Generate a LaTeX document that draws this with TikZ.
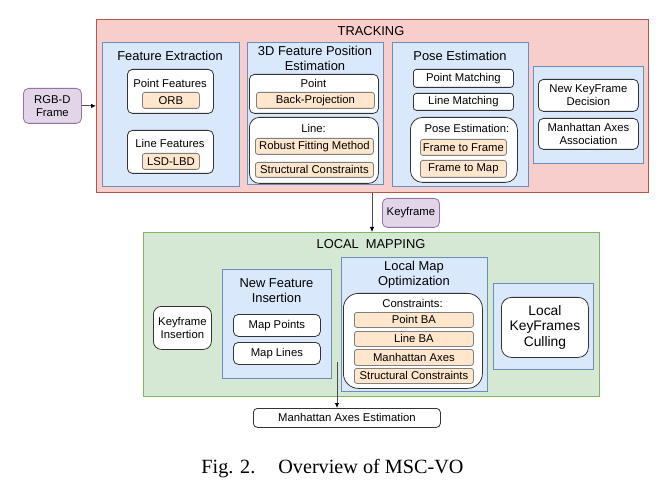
\documentclass[tikz,border=0pt]{standalone}
\usepackage{fontspec}
\setmainfont{Liberation Sans}
\newfontfamily\capfont{Liberation Serif}
\usetikzlibrary{arrows.meta}
\definecolor{pinkF}{HTML}{F8CECC}\definecolor{pinkD}{HTML}{B85450}
\definecolor{blueF}{HTML}{DAE8FC}\definecolor{blueD}{HTML}{6C8EBF}
\definecolor{greenF}{HTML}{D5E8D4}\definecolor{greenD}{HTML}{82B366}
\definecolor{orF}{HTML}{FFE6CC}\definecolor{orD}{HTML}{7F7F7F}
\definecolor{puF}{HTML}{E1D5E7}\definecolor{puD}{HTML}{9673A6}
\newcommand\bx[7]{\node[#1, minimum width={#5pt-#3pt}, minimum height={#6pt-#4pt}] (#2) at (#3,#4) {#7};}
\tikzset{
  base/.style={anchor=north west, inner sep=0pt, align=center, line width=0.8pt,
    font=\fontsize{11.3}{13.5}\selectfont},
  pinkbox/.style={base, fill=pinkF, draw=pinkD},
  bluebox/.style={base, fill=blueF, draw=blueD},
  greenbox/.style={base, fill=greenF, draw=greenD},
  whitebox/.style={base, fill=white, draw=black!80, rounded corners=5pt},
  orbox/.style={base, fill=orF, draw=orD, rounded corners=2.5pt},
  pubox/.style={base, fill=puF, draw=puD, rounded corners=5pt},
  ttl/.style={inner sep=0pt, align=center, font=\fontsize{12.9}{15}\selectfont},
  txt/.style={inner sep=0pt, align=center, font=\fontsize{11.3}{13.5}\selectfont},
  arr/.style={draw=black!70, line width=0.8pt, -{Latex[length=5pt,width=4.5pt,color=black]}},
}
\begin{document}
\begin{tikzpicture}[x=1pt,y=-1pt]
\useasboundingbox (0,0) rectangle (667,497);
% TRACKING
\bx{pinkbox}{trk}{96}{19}{648}{192}{}
\node[ttl] (trkt) at (371,31) {TRACKING};
\bx{pubox}{rgbd}{23}{88}{81}{123}{RGB-D\\Frame}
\draw[arr] (rgbd.east) -- (rgbd.east -| trk.west);
% Feature extraction
\bx{bluebox}{fe}{102}{42}{239}{186}{}
\node[ttl] (fet) at (170,56) {Feature Extraction};
\bx{whitebox}{pf}{127}{69}{213}{113}{}
\node[txt] (pft) at (170,83) {Point Features};
\bx{orbox}{orb}{142}{92}{199}{108}{ORB}
\bx{whitebox}{lf}{127}{130}{213}{173}{}
\node[txt] (lft) at (170,143) {Line Features};
\bx{orbox}{lsd}{142}{153}{199}{169}{LSD-LBD}
% 3D feature position estimation
\bx{bluebox}{fpe}{247}{42}{383}{184}{}
\node[ttl] (fpet) at (315,58.5) {3D Feature Position\\Estimation};
\bx{whitebox}{pt}{249}{74}{378}{113}{}
\node[txt] (ptt) at (313.5,83) {Point};
\bx{orbox}{bp}{256}{92}{374}{108}{Back-Projection}
\bx{whitebox,rounded corners=10pt}{ln}{249}{117}{378}{183}{}
\node[txt] (lnt) at (313.5,128) {Line:};
\bx{orbox}{rf}{255}{138}{373}{154}{Robust Fitting Method}
\bx{orbox}{sc}{255}{162}{373}{177}{Structural Constraints}
% Pose estimation
\bx{bluebox}{pose}{392}{42}{528}{186}{}
\node[ttl] (poset) at (460,56) {Pose Estimation};
\bx{whitebox,rounded corners=3pt}{pm}{413}{69}{513}{87}{Point Matching}
\bx{whitebox,rounded corners=3pt}{lm}{413}{93}{513}{110}{Line Matching}
\bx{whitebox,rounded corners=12pt}{pe}{410}{117}{517}{182}{}
\node[txt] (pet) at (467,128) {Pose Estimation:};
\bx{orbox}{ff}{420}{139}{506}{155}{Frame to Frame}
\bx{orbox}{fm}{420}{160}{506}{177}{Frame to Map}
% right column
\bx{bluebox}{rc}{533}{66}{643}{163}{}
\bx{whitebox}{nk}{538}{79}{638}{111}{New KeyFrame\\Decision}
\bx{whitebox}{maa}{538}{118}{638}{149}{Manhattan Axes\\Association}
% keyframe link
\coordinate (kx) at (372,0);
\bx{greenbox}{lmap}{143}{232}{599}{396}{}
\draw[arr] (trk.south -| kx) -- (lmap.north -| kx);
\bx{pubox}{kf}{382}{198}{439}{227}{Keyframe}
% LOCAL MAPPING
\node[ttl] (lmapt) at (371,244) {LOCAL\hspace{7pt}MAPPING};
\bx{whitebox,rounded corners=8pt}{ki}{153}{306}{211}{349}{Keyframe\\Insertion}
\bx{bluebox}{nfi}{222}{269}{331}{378}{}
\node[ttl] (nfit) at (276.5,290.5) {New Feature\\Insertion};
\bx{whitebox}{mp}{233}{314}{320}{336}{Map Points}
\bx{whitebox}{ml}{233}{342}{320}{364}{Map Lines}
\bx{bluebox}{lmo}{341}{257}{487}{391}{}
\node[ttl] (lmot) at (414,275) {Local Map\\Optimization};
\bx{whitebox,rounded corners=15pt}{cons}{343}{293}{482}{388}{}
\node[txt] (const) at (412.5,303) {Constraints:};
\bx{orbox}{pba}{354}{312}{473}{327}{Point BA}
\bx{orbox}{lba}{354}{331}{473}{346}{Line BA}
\bx{orbox}{mha}{354}{349}{473}{365}{Manhattan Axes}
\bx{orbox}{scs}{354}{368}{473}{383}{Structural Constraints}
\bx{bluebox}{rb}{493}{283}{593}{369}{}
\bx{whitebox,rounded corners=10pt,font=\fontsize{13.8}{15.5}\selectfont}{lkc}{501}{297}{588}{357}{Local\\KeyFrames\\Culling}
% Manhattan axes estimation
\bx{whitebox,rounded corners=4pt}{mae}{253}{408}{440}{427}{Manhattan Axes Estimation}
\coordinate (ms) at (337,362);
\draw[arr] (ms) -- (mae.north -| ms);
% caption
\node[inner sep=0pt, anchor=base, font=\capfont\fontsize{20.2}{24}\selectfont] (cap) at (332.5,473) {Fig. 2.\hspace{23pt}Overview of MSC-VO};
\end{tikzpicture}
\end{document}
